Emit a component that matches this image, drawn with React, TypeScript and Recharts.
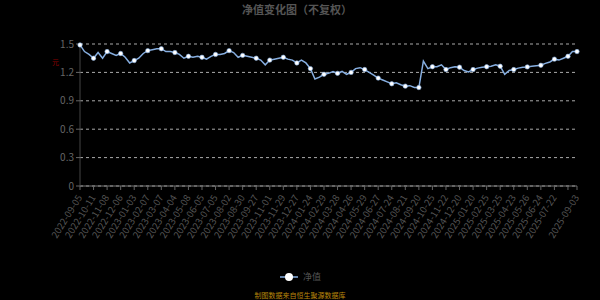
import { LineChart, Line, XAxis, YAxis, CartesianGrid } from 'recharts';

// 每个点约一周，标签之间 3 个点
const dates = [
  '2022-09-05', '2022-09-15', '2022-09-27',
  '2022-10-11', '2022-10-20', '2022-10-31',
  '2022-11-08', '2022-11-17', '2022-11-25',
  '2022-12-06', '2022-12-15', '2022-12-23',
  '2023-01-03', '2023-01-12', '2023-01-30',
  '2023-02-07', '2023-02-16', '2023-02-24',
  '2023-03-07', '2023-03-16', '2023-03-24',
  '2023-04-04', '2023-04-14', '2023-04-24',
  '2023-05-08', '2023-05-17', '2023-05-25',
  '2023-06-05', '2023-06-14', '2023-06-26',
  '2023-07-05', '2023-07-14', '2023-07-24',
  '2023-08-02', '2023-08-11', '2023-08-21',
  '2023-08-30', '2023-09-08', '2023-09-18',
  '2023-09-27', '2023-10-13', '2023-10-23',
  '2023-11-01', '2023-11-10', '2023-11-20',
  '2023-11-29', '2023-12-08', '2023-12-18',
  '2023-12-27', '2024-01-05', '2024-01-15',
  '2024-01-24', '2024-02-02', '2024-02-19',
  '2024-02-29', '2024-03-11', '2024-03-19',
  '2024-03-28', '2024-04-09', '2024-04-18',
  '2024-04-26', '2024-05-13', '2024-05-21',
  '2024-05-29', '2024-06-07', '2024-06-19',
  '2024-06-27', '2024-07-08', '2024-07-16',
  '2024-07-24', '2024-08-02', '2024-08-12',
  '2024-08-21', '2024-08-30', '2024-09-10',
  '2024-09-20', '2024-10-08', '2024-10-16',
  '2024-10-25', '2024-11-05', '2024-11-13',
  '2024-11-22', '2024-12-03', '2024-12-11',
  '2024-12-20', '2024-12-31', '2025-01-09',
  '2025-01-20', '2025-02-07', '2025-02-17',
  '2025-02-25', '2025-03-06', '2025-03-14',
  '2025-03-25', '2025-04-08', '2025-04-15',
  '2025-04-23', '2025-05-07', '2025-05-15',
  '2025-05-26', '2025-06-05', '2025-06-13',
  '2025-06-24', '2025-07-03', '2025-07-11',
  '2025-07-22', '2025-07-31', '2025-08-08',
  '2025-08-19', '2025-08-27', '2025-09-03',
];

const nav = [
  1.49, 1.42, 1.39,
  1.35, 1.41, 1.35,
  1.42, 1.40, 1.38,
  1.40, 1.36, 1.30,
  1.325, 1.35, 1.40,
  1.43, 1.44, 1.45,
  1.45, 1.42, 1.42,
  1.41, 1.39, 1.35,
  1.37, 1.36, 1.37,
  1.36, 1.34, 1.37,
  1.39, 1.39, 1.40,
  1.43, 1.41, 1.36,
  1.38, 1.37, 1.36,
  1.35, 1.33, 1.28,
  1.33, 1.34, 1.35,
  1.36, 1.34, 1.33,
  1.30, 1.33, 1.30,
  1.24, 1.13, 1.15,
  1.18, 1.19, 1.21,
  1.19, 1.21, 1.18,
  1.20, 1.24, 1.25,
  1.23, 1.20, 1.17,
  1.14, 1.12, 1.10,
  1.08, 1.09, 1.07,
  1.055, 1.06, 1.04,
  1.04, 1.32, 1.24,
  1.26, 1.26, 1.28,
  1.23, 1.25, 1.26,
  1.255, 1.22, 1.205,
  1.23, 1.245, 1.255,
  1.26, 1.265, 1.28,
  1.265, 1.18, 1.22,
  1.23, 1.245, 1.255,
  1.258, 1.265, 1.27,
  1.275, 1.295, 1.31,
  1.34, 1.33, 1.35,
  1.37, 1.42, 1.42,
];

const tickLabels = [
  '2022-09-05', '2022-10-11', '2022-11-08', '2022-12-06', '2023-01-03',
  '2023-02-07', '2023-03-07', '2023-04-04', '2023-05-08', '2023-06-05',
  '2023-07-05', '2023-08-02', '2023-08-30', '2023-09-27', '2023-11-01',
  '2023-11-29', '2023-12-27', '2024-01-24', '2024-02-29', '2024-03-28',
  '2024-04-26', '2024-05-29', '2024-06-27', '2024-07-24', '2024-08-21',
  '2024-09-20', '2024-10-25', '2024-11-22', '2024-12-20', '2025-01-20',
  '2025-02-25', '2025-03-25', '2025-04-23', '2025-05-26', '2025-06-24',
  '2025-07-22', '2025-09-03',
];
// 有刻度但标签被挤掉的位置
const hiddenTicks = ['2025-08-19'];
const yTicks = [0, 0.3, 0.6, 0.9, 1.2, 1.5];

const data = dates.map((date, i) => ({ date, value: nav[i] }));
const tickDates = [...tickLabels.slice(0, -1), ...hiddenTicks, tickLabels[tickLabels.length - 1]];
const markSet = new Set(tickDates);
const labelSet = new Set(tickLabels);

const FONT = '"Noto Sans CJK SC", "Noto Sans", sans-serif';
const LINE = '#86aee0';

function DateTick({ x, y, payload }: any) {
  if (!labelSet.has(payload.value)) return <g />;
  return (
    <text
      x={x}
      y={y + 4}
      textAnchor="end"
      fill="#555"
      fontSize={9.5}
      fontFamily={FONT}
      transform={`rotate(-58 ${x} ${y + 4})`}
      dy={3}
    >
      {payload.value}
    </text>
  );
}

function MarkDot({ cx, cy, payload }: any) {
  if (!markSet.has(payload.date)) return <g key={payload.date} />;
  return <circle key={payload.date} cx={cx} cy={cy} r={2.2} fill="#fff" stroke={LINE} strokeWidth={0.6} />;
}

export default function App() {
  return (
    <div style={{ position: 'fixed', top: 0, left: 0, width: 600, height: 300, background: '#000', fontFamily: FONT }}>
      <LineChart width={600} height={300} data={data} margin={{ top: 44, right: 23, left: 0, bottom: 44 }}>
        <CartesianGrid vertical={false} stroke="#aaa" strokeDasharray="3 3" />
        <XAxis
          dataKey="date"
          ticks={tickDates}
          interval={0}
          height={70}
          tick={<DateTick />}
          tickSize={4}
          tickLine={{ stroke: '#666' }}
          axisLine={{ stroke: '#777' }}
        />
        <YAxis
          domain={[0, 1.5]}
          ticks={yTicks}
          width={80}
          tickSize={4}
          tick={{ fill: '#666', fontSize: 10, fontFamily: FONT }}
          tickLine={{ stroke: '#666' }}
          axisLine={{ stroke: '#444' }}
        />
        <Line
          type="linear"
          dataKey="value"
          stroke={LINE}
          strokeWidth={1.5}
          dot={<MarkDot />}
          activeDot={false}
          isAnimationActive={false}
        />
      </LineChart>
      <svg width={600} height={300} style={{ position: 'absolute', top: 0, left: 0, pointerEvents: 'none' }}>
        <text x={297} y={13.5} textAnchor="middle" fill="#555" fontSize={11} fontWeight="bold" fontFamily={FONT}>
          净值变化图（不复权）
        </text>
        <text x={52} y={65} fill="#8b0000" fontSize={7} fontFamily={FONT}>元</text>
        <line x1={280} y1={277} x2={298} y2={277} stroke={LINE} strokeWidth={1.5} />
        <circle cx={289} cy={277} r={4} fill="#fff" />
        <text x={303} y={280} fill="#555" fontSize={9} fontFamily={FONT}>净值</text>
        <text x={300} y={298} textAnchor="middle" fill="#b8860b" fontSize={7} fontFamily={FONT}>
          制图数据来自恒生聚源数据库
        </text>
      </svg>
    </div>
  );
}
